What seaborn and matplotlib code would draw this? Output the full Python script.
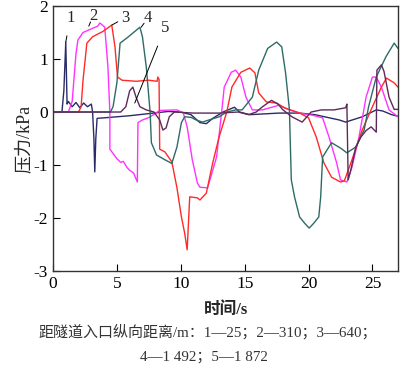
import pandas as pd
import matplotlib
matplotlib.use("Agg")
import matplotlib.pyplot as plt
import seaborn as sns

# 测点 1 (25 m)
t1 = [0, 0.7, 0.85, 1.0, 1.1, 1.2, 1.5, 1.8, 2.1, 2.4, 2.7, 3.0, 3.1, 3.2, 3.27, 3.35, 3.45,
      4.5, 6.0, 7.5, 9.0, 10.0, 10.8, 11.5, 12.0, 12.5, 13.3, 14.2, 14.6, 15.4, 17.7, 19.3,
      20.5, 22.4, 22.9, 24.2, 25.3, 25.8, 26.5, 27]
p1 = [0, 0, 0.4, 1.32, 0.15, 0.2, 0.1, 0.18, 0.08, 0.17, 0.1, 0.15, 0.0, -0.5, -1.13, -0.5, -0.12,
      -0.1, -0.07, -0.03, 0.01, 0.0, -0.05, -0.2, -0.22, -0.12, 0.0, 0.09, 0.0, -0.05, -0.02, -0.02,
      -0.05, -0.15, -0.19, -0.09, 0.04, 0.02, -0.05, -0.08]

# 测点 2 (310 m)
t2 = [0, 1.2, 1.5, 1.8, 1.95, 2.35, 3.1, 3.5, 3.67, 4.05, 4.3, 4.45, 4.45, 4.6, 5.0, 5.3, 5.5,
      5.8, 6.0, 6.3, 6.6, 6.65, 7.0, 7.55, 8.35, 9.7, 10.2, 10.5, 10.9, 11.3, 11.5, 12.1, 12.8,
      13.2, 13.4, 13.95, 14.3, 14.7, 15.1, 15.6, 16.4, 17.7, 18.5, 19.5, 20.3, 21.1, 21.6, 22.2,
      22.5, 23.0, 23.4, 23.95, 24.5, 25.0, 25.3, 25.7, 26.3, 27]
p2 = [0, 0, 0.2, 1.1, 1.36, 1.5, 1.58, 1.62, 1.68, 1.6, 0.85, 0.0, -0.7, -0.75, -0.88, -0.95, -0.93,
      -1.05, -1.1, -1.15, -1.32, -0.2, -0.15, -0.1, 0.03, 0.04, -0.02, -0.28, -0.9, -1.34, -1.42,
      -1.43, -0.85, 0.0, 0.47, 0.75, 0.79, 0.66, 0.28, 0.04, 0.04, 0.13, 0.04, -0.03, -0.06, -0.11,
      -0.47, -0.96, -1.28, -1.32, -1.04, -0.47, 0.28, 0.66, 0.66, 0.47, 0.04, -0.09]

# 测点 3 (640 m)
t3 = [0, 2.0, 2.2, 2.35, 2.65, 3.1, 3.9, 4.6, 4.85, 5.05, 5.4, 6.5, 7.5, 8.15, 8.2, 8.3, 8.35,
      8.5, 8.75, 9.3, 9.7, 10.05, 10.3, 10.5, 10.7, 11.3, 11.5, 12.0, 12.5, 13.0, 13.6, 14.0,
      14.7, 15.4, 15.8, 16.1, 16.7, 17.5, 18.1, 19.3, 20.0, 20.6, 21.2, 21.8, 22.5, 22.8, 23.4,
      24.2, 25.0, 25.7, 26.1, 26.7, 27]
p3 = [0, 0, 0.1, 0.6, 1.3, 1.42, 1.52, 1.64, 1.23, 0.66, 0.6, 0.58, 0.6, 0.58, 0.66, 0.62, -0.7,
      -0.72, -0.75, -0.94, -1.43, -1.98, -2.28, -2.6, -1.6, -1.62, -1.66, -1.53, -0.96, -0.47, 0.0,
      0.47, 0.75, 0.83, 0.74, 0.36, 0.19, 0.17, 0.08, -0.02, -0.11, -0.47, -0.96, -1.23, -1.32,
      -1.3, -0.9, -0.34, 0.1, 0.47, 0.64, 0.55, 0.47]

# 测点 4 (1 492 m)
t4 = [0, 4.5, 4.7, 5.0, 5.25, 5.8, 6.3, 6.8, 7.0, 7.3, 7.6, 7.7, 8.1, 8.75, 9.3, 9.7, 10.05,
      10.3, 10.8, 11.2, 11.7, 12.2, 13.0, 13.6, 14.3, 14.8, 15.6, 16.1, 16.8, 17.5, 17.9, 18.2,
      18.5, 18.65, 18.9, 19.3, 19.7, 20.05, 20.4, 20.8, 20.95, 21.1, 21.8, 22.5, 23.0, 23.7,
      24.35, 24.7, 25.3, 26.05, 26.7, 27]
p4 = [0, 0, 0.1, 0.55, 1.3, 1.4, 1.5, 1.6, 1.42, 0.85, 0.0, -0.58, -0.81, -0.9, -0.97, -0.66, -0.2,
      -0.09, -0.1, -0.15, -0.19, -0.15, -0.09, 0.0, 0.04, 0.04, 0.28, 0.79, 1.2, 1.32, 1.23, 0.74,
      0.05, -1.28, -1.6, -1.98, -2.1, -2.19, -2.1, -1.98, -1.6, -0.85, -0.58, -0.68, -0.77, -0.66,
      -0.34, 0.1, 0.66, 1.04, 1.3, 1.2]

# 测点 5 (1 872 m)
t5 = [0, 5.3, 5.7, 6.0, 6.25, 6.5, 6.8, 7.3, 7.9, 8.35, 8.6, 8.85, 9.1, 9.5, 11.0, 13.0, 14.5,
      15.3, 15.9, 16.4, 17.1, 17.6, 18.0, 18.7, 19.5, 20.2, 21.0, 22.0, 22.9, 23.0, 23.1, 23.3,
      23.7, 24.1, 24.5, 24.9, 25.3, 25.35, 25.7, 25.9, 26.3, 26.7, 27]
p5 = [0, 0, 0.1, 0.4, 0.47, 0.28, 0.1, 0.04, 0.0, -0.15, -0.34, -0.3, -0.09, 0.0, -0.02, -0.02, 0.0,
      -0.05, 0.0, 0.1, 0.22, 0.15, 0.04, -0.09, -0.19, 0.0, 0.04, 0.04, 0.08, 0.15, -1.28, -1.1,
      -0.66, -0.47, -0.35, -0.28, -0.38, 0.79, 0.89, 0.77, 0.28, 0.05, 0.05]

curves = ["1", "2", "3", "4", "5"]
colors = ["#2b2b68", "#ff33ff", "#ff2a2a", "#2e6b66", "#5e2a5c"]

# 标注: 文字位置, 引线终点
label_xy = [(1.35, 1.78), (3.15, 1.82), (5.65, 1.78), (7.45, 1.78), (8.75, 1.58)]
label_tip = [(1.0, 1.32), (2.8, 1.62), (4.6, 1.64), (6.9, 1.6), (6.4, 0.17)]

frames = []
for name, t, p in zip(curves, [t1, t2, t3, t4, t5], [p1, p2, p3, p4, p5]):
    frames.append(pd.DataFrame({"t": t, "p": p, "curve": name}))
df = pd.concat(frames, ignore_index=True)

sns.set_style("ticks")
plt.rcParams["font.family"] = ["Liberation Serif", "Noto Sans CJK SC"]
plt.rcParams["axes.unicode_minus"] = False

fig = plt.figure(figsize=(4, 3.65), dpi=100)
ax = fig.add_axes([0.1325, 0.2575, 0.8625, 0.726])

sns.lineplot(data=df, x="t", y="p", hue="curve", palette=colors, sort=False,
             estimator=None, linewidth=1.0, legend=False, ax=ax)

for name, xy, tip in zip(curves, label_xy, label_tip):
    ax.annotate(name, xy=tip, xytext=xy, fontsize=12, ha="center", va="center",
                arrowprops=dict(arrowstyle="-", lw=0.7, color="black",
                                shrinkA=5, shrinkB=0))

ax.set_xlim(0, 27)
ax.set_ylim(-3, 2)
ax.set_xticks([0, 5, 10, 15, 20, 25])
ax.set_yticks([-3, -2, -1, 0, 1, 2])
ax.tick_params(direction="in", length=5, width=0.8, labelsize=12.5, colors="black")
for s in ax.spines.values():
    s.set_linewidth(1.0)
    s.set_color("#333333")

ax.set_xlabel("时间/s", fontsize=12, fontweight="bold", labelpad=7)
ax.set_ylabel("压力/kPa", fontsize=13, labelpad=1)

fig.text(0.52, 0.09, "距隧道入口纵向距离/m：1—25；2—310；3—640；",
         ha="center", va="center", fontsize=10.8, color="#333333")
fig.text(0.51, 0.023, "4—1 492；5—1 872",
         ha="center", va="center", fontsize=10.8, color="#333333")

fig.savefig("out.png", dpi=100)
